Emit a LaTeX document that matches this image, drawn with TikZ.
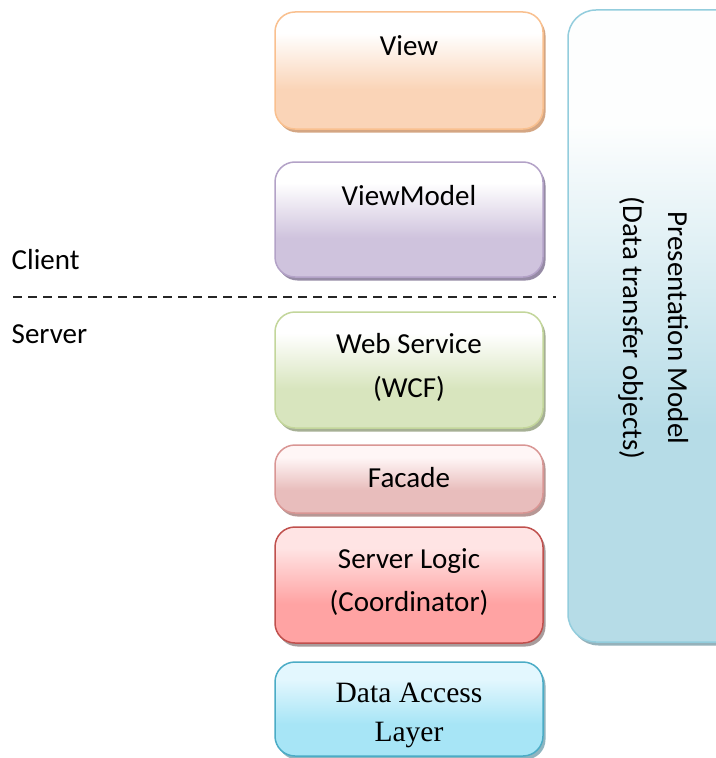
\documentclass[tikz,border=0pt]{standalone}
\usepackage{fontspec}
\setmainfont{Carlito}
\newfontfamily\timesfont{Liberation Serif}
\usetikzlibrary{shadows}

% layer palettes: border, top, bottom, shadow
\definecolor{viewBd}{HTML}{F9C08F}
\definecolor{viewBot}{HTML}{FAD4B7}
\definecolor{viewSh}{HTML}{D4A683}
\definecolor{vmBd}{HTML}{B3A2C7}
\definecolor{vmBot}{HTML}{CFC3DD}
\definecolor{vmSh}{HTML}{968BA5}
\definecolor{wsBd}{HTML}{C3D69B}
\definecolor{wsBot}{HTML}{D8E5BE}
\definecolor{wsSh}{HTML}{A6B095}
\definecolor{facBd}{HTML}{D99694}
\definecolor{facTop}{HTML}{FFF6F6}
\definecolor{facBot}{HTML}{E8BDBC}
\definecolor{facSh}{HTML}{B79795}
\definecolor{slBd}{HTML}{C0504D}
\definecolor{slTop}{HTML}{FFE4E4}
\definecolor{slBot}{HTML}{FFA3A3}
\definecolor{slSh}{HTML}{A89C9C}
\definecolor{dalBd}{HTML}{4BACC6}
\definecolor{dalTop}{HTML}{E3F7FE}
\definecolor{dalBot}{HTML}{A7E5F6}
\definecolor{dalSh}{HTML}{8FB5C0}
\definecolor{pmBd}{HTML}{93CDDD}
\definecolor{pmTop}{HTML}{FDFEFE}
\definecolor{pmBot}{HTML}{B6DCE7}
\definecolor{pmSh}{HTML}{95B2BB}

% light-at-top fade used by every layer
\pgfdeclareverticalshading[layertop,layerbot]{layerfade}{100bp}{%
  color(0bp)=(layerbot); color(25bp)=(layerbot); color(42bp)=(layerbot);
  color(66bp)=(layertop); color(75bp)=(layertop); color(100bp)=(layertop)}

\tikzset{
  layer/.style n args={4}{draw=#1, line width=1.5bp, rounded corners=20bp,
    minimum width=268bp, inner sep=0pt,
    /utils/exec={\colorlet{layertop}{#2}\colorlet{layerbot}{#3}},
    shade, shading=layerfade,
    drop shadow={shadow xshift=2.5bp, shadow yshift=-3.5bp, fill=#4, opacity=1}},
  txt/.style={font=\fontsize{29bp}{35bp}\selectfont, anchor=base, inner sep=0pt},
  serif/.style={font=\timesfont\fontsize{29.5bp}{35bp}\selectfont, anchor=base, inner sep=0pt},
  side/.style={font=\fontsize{29bp}{35bp}\selectfont, anchor=base west, inner sep=0pt},
  tier/.style={dash pattern=on 9bp off 6bp, line width=1.3bp, draw=black!85},
}

\begin{document}
\begin{tikzpicture}[x=1bp,y=-1bp]
\clip (0,0) rectangle (716,758);
\fill[white] (0,0) rectangle (716,758);

% presentation model column
\node[layer={pmBd}{pmTop}{pmBot}{pmSh}, rounded corners=28bp,
      minimum width=182bp, minimum height=632bp] (pm) at (659,326) {};
\node[txt, rotate=-90] (pmT1) at (668,328) {Presentation Model};
\node[txt, rotate=-90] (pmT2) at (623,328) {(Data transfer objects)};

% client tier
\node[layer={viewBd}{white}{viewBot}{viewSh}, minimum height=117bp] (view) at (409,70.5) {};
\node[txt] (viewT) at (409,56) {View};

\node[layer={vmBd}{white}{vmBot}{vmSh}, minimum height=115bp] (vm) at (409,219.5) {};
\node[txt] (vmT) at (409,205) {ViewModel};

% client / server boundary
\node[side] (client) at (11.5,269) {Client};
\coordinate (tierL) at (13,297);
\coordinate (tierR) at (556,297);
\draw[tier] (tierL) -- (tierR);
\node[side] (server) at (11.5,343) {Server};

% server tier
\node[layer={wsBd}{white}{wsBot}{wsSh}, minimum height=116bp] (ws) at (409,370) {};
\node[txt] (wsT1) at (409,353) {Web Service};
\node[txt] (wsT2) at (409,397) {(WCF)};

\node[layer={facBd}{facTop}{facBot}{facSh}, minimum height=68bp] (fac) at (409,479) {};
\node[txt] (facT) at (409,487) {Facade};

\node[layer={slBd}{slTop}{slBot}{slSh}, minimum height=116bp] (sl) at (409,585) {};
\node[txt] (slT1) at (409,568) {Server Logic};
\node[txt] (slT2) at (409,611) {(Coordinator)};

\node[layer={dalBd}{dalTop}{dalBot}{dalSh}, minimum height=94bp] (dal) at (409,709) {};
\node[serif] (dalT1) at (409,702) {Data Access};
\node[serif] (dalT2) at (409,741) {Layer};
\end{tikzpicture}
\end{document}
